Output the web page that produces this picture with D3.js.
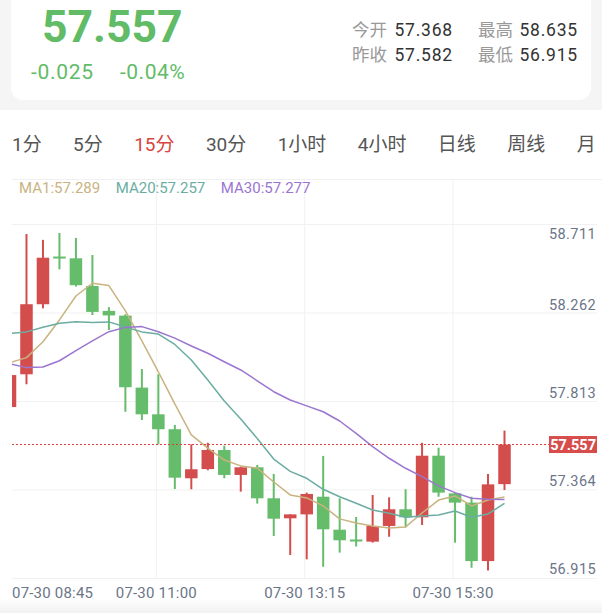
<!DOCTYPE html>
<html><head><meta charset="utf-8">
<script src="https://cdn.jsdelivr.net/npm/d3@7/dist/d3.min.js"></script>
<style>
html,body{margin:0;padding:0;background:#fff;}
svg{display:block;font-family:Roboto,"Noto Sans CJK SC",sans-serif;}
</style></head><body>
<svg id="c" width="602" height="613"></svg>
<script>
// ---------- data ----------
const opens  = [57.748,57.915,58.272,58.515,58.506,58.365,58.238,58.214,57.847,57.711,57.635,57.385,57.432,57.529,57.402,57.441,57.283,57.181,57.201,57.291,57.123,57.073,57.062,57.142,57.227,57.186,57.500,57.308,57.261,56.963,57.355];
const closes = [57.911,58.272,58.509,58.508,58.369,58.233,58.215,57.849,57.711,57.635,57.388,57.431,57.529,57.402,57.441,57.283,57.179,57.201,57.305,57.125,57.069,57.065,57.142,57.227,57.186,57.500,57.312,57.261,56.963,57.354,57.557];
const highs  = [57.937,58.630,58.600,58.635,58.610,58.523,58.257,58.221,57.942,57.915,57.657,57.558,57.566,57.551,57.444,57.453,57.407,57.201,57.312,57.499,57.283,57.188,57.300,57.288,57.329,57.566,57.541,57.312,57.291,57.407,57.628];
const lows   = [57.733,57.864,58.251,58.450,58.362,58.217,58.141,57.724,57.682,57.558,57.330,57.329,57.426,57.385,57.317,57.256,57.091,56.994,56.972,56.934,57.006,57.037,57.057,57.087,57.135,57.147,57.291,57.057,56.929,56.915,57.325];
const ma1  = [57.975,58.000,58.081,58.192,58.314,58.379,58.367,58.238,58.085,57.927,57.764,57.606,57.539,57.478,57.448,57.437,57.366,57.300,57.285,57.244,57.178,57.157,57.142,57.132,57.137,57.208,57.274,57.295,57.244,57.274,57.289];
const ma20 = [58.123,58.131,58.155,58.175,58.183,58.179,58.182,58.156,58.131,58.120,58.067,57.988,57.886,57.779,57.687,57.588,57.483,57.420,57.385,57.329,57.291,57.258,57.223,57.207,57.186,57.193,57.198,57.218,57.186,57.203,57.257];
const ma30 = [57.968,57.949,57.952,57.984,58.035,58.085,58.132,58.154,58.158,58.132,58.099,58.059,58.022,57.979,57.937,57.882,57.826,57.784,57.754,57.724,57.677,57.614,57.546,57.487,57.436,57.393,57.346,57.312,57.283,57.278,57.277];
const yTickValues = ["58.711","58.262","57.813","57.364","56.915"];
const xTickIndex  = [0, 9, 18, 27];
const xTickLabels = ["07-30 08:45","07-30 11:00","07-30 13:15","07-30 15:30"];
const tabs = ["1分","5分","15分","30分","1小时","4小时","日线","周线","月"];
const activeTab = "15分";
const legendNames  = ["MA1","MA20","MA30"];
const legendValues = ["57.289","57.257","57.277"];
const lastPrice = "57.557";
const change = "-0.025";
const changePct = "-0.04%";
const statLabels = ["今开","最高","昨收","最低"];
const statValues = ["57.368","58.635","57.582","56.915"];

// ---------- style ----------
const GREEN = "#65bc6b", RED = "#d44d4d";
const maColors = ["#c9b37f","#6bada3","#9b76d1"];
const AXIS = "#6b7588";
const GRID = "#f1f1f1";

const svg = d3.select("#c");
const defs = svg.append("defs");

// backgrounds
svg.append("rect").attr("x",0).attr("y",0).attr("width",602).attr("height",110).attr("fill","#f5f5f5");
svg.append("rect").attr("x",11).attr("y",-20).attr("width",580).attr("height",120).attr("rx",12).attr("fill","#fff");
const bg = defs.append("linearGradient").attr("id","bg").attr("x1",0).attr("y1",0).attr("x2",0).attr("y2",1);
bg.append("stop").attr("offset","0").attr("stop-color","#ffffff");
bg.append("stop").attr("offset","1").attr("stop-color","#f2f2f2");
svg.append("rect").attr("x",0).attr("y",598).attr("width",602).attr("height",15).attr("fill","url(#bg)");

// ---------- header ----------
svg.append("text").attr("x",42).attr("y",41.7).attr("font-size",44.5).attr("font-weight",700)
  .attr("fill","#62bb67").text(lastPrice);
svg.append("text").attr("x",31).attr("y",79).attr("font-size",21).attr("letter-spacing",0.7).attr("fill","#62bb67").text(change);
svg.append("text").attr("x",120).attr("y",79).attr("font-size",21).attr("letter-spacing",0.5).attr("fill","#62bb67").text(changePct);
const statLX = [352, 478], statVX = [453, 578], statY = [35.5, 60.5];
statLabels.forEach((l,i)=>{
  const col = i%2, row = Math.floor(i/2);
  svg.append("text").attr("x",statLX[col]).attr("y",statY[row]).attr("font-size",17.5).attr("fill","#999").text(l);
  svg.append("text").attr("x",statVX[col]).attr("y",statY[row]).attr("font-size",17.5).attr("letter-spacing",0.8)
    .attr("text-anchor","end").attr("fill","#333").text(statValues[i]);
});

// ---------- tabs ----------
let tx = 12;
tabs.forEach(t=>{
  const el = svg.append("text").attr("x",tx).attr("y",150.5).attr("font-size",19)
    .attr("fill", t===activeTab ? "#d6453f" : "#555").text(t);
  tx += el.node().getComputedTextLength() + 31.4;
});
svg.append("line").attr("x1",12).attr("x2",602).attr("y1",179.5).attr("y2",179.5).attr("stroke","#f0f0f0");

// ---------- scales ----------
const n = closes.length;
const x = d3.scaleLinear().domain([0, n-1]).range([10, 504.5]);
const step = x(1) - x(0);
const y = d3.scaleLinear().domain([d3.min(lows), d3.max(highs)]).range([570.5, 233]);
const gridY = d3.scaleLinear().domain([0, 4]).range([578.5, 224.5]);

// grid
svg.append("g").selectAll("line").data(d3.range(5)).join("line")
  .attr("x1",12).attr("x2",597).attr("y1",d=>gridY(d)).attr("y2",d=>gridY(d)).attr("stroke",GRID);
svg.append("g").selectAll("line").data(xTickIndex.slice(1)).join("line")
  .attr("x1",d=>x(d)-2).attr("x2",d=>x(d)-2).attr("y1",180).attr("y2",578.5).attr("stroke",GRID);

// ---------- legend ----------
let lx = 19;
legendNames.forEach((nm,i)=>{
  const el = svg.append("text").attr("x",lx).attr("y",192.5).attr("font-size",15).attr("fill",maColors[i])
    .text(nm + ":" + legendValues[i]);
  lx += el.node().getComputedTextLength() + 15.5;
});

// ---------- candles ----------
defs.append("clipPath").attr("id","clip").append("rect").attr("x",12).attr("y",180).attr("width",536).attr("height",400);
const plot = svg.append("g").attr("clip-path","url(#clip)");
const idx = d3.range(n);
const col = i => closes[i] >= opens[i] ? RED : GREEN;
const bw = step*0.76;
plot.append("g").selectAll("line").data(idx).join("line")
  .attr("x1",i=>x(i)).attr("x2",i=>x(i)).attr("y1",i=>y(highs[i])).attr("y2",i=>y(lows[i]))
  .attr("stroke",col).attr("stroke-width",2);
plot.append("g").selectAll("rect").data(idx).join("rect")
  .attr("x",i=>x(i)-bw/2).attr("width",bw)
  .attr("y",i=>y(Math.max(opens[i],closes[i])))
  .attr("height",i=>Math.max(2, Math.abs(y(opens[i])-y(closes[i]))))
  .attr("fill",col);

// MA lines
[ma1, ma20, ma30].forEach((arr,k)=>{
  plot.append("path").datum(arr)
    .attr("d", d3.line().x((d,i)=>x(i)).y(d=>y(d)))
    .attr("fill","none").attr("stroke",maColors[k]).attr("stroke-width",1.5).attr("stroke-linejoin","round");
});

// ---------- y axis labels ----------
svg.append("g").selectAll("text").data(yTickValues).join("text")
  .attr("x",596).attr("text-anchor","end").attr("font-size",14.5).attr("letter-spacing",0.4).attr("fill",AXIS)
  .attr("y",d=>Math.max(y(+d)+3.8, 238.5)).text(d=>d);

// ---------- last price line ----------
const py = y(+lastPrice);
svg.append("line").attr("x1",12).attr("x2",549).attr("y1",py).attr("y2",py)
  .attr("stroke","#e23b3b").attr("stroke-width",1).attr("stroke-dasharray","2,2");
svg.append("rect").attr("x",549).attr("y",py-8.5).attr("width",48).attr("height",17).attr("fill","#d64d4c");
svg.append("text").attr("x",596).attr("y",py+5.2).attr("text-anchor","end").attr("font-size",14.5)
  .attr("font-weight",700).attr("fill","#fff").text(lastPrice);

// ---------- x axis labels ----------
xTickIndex.forEach((ti,i)=>{
  const el = svg.append("text").attr("y",598).attr("font-size",15).attr("letter-spacing",0.2).attr("fill",AXIS).text(xTickLabels[i]);
  const w = el.node().getComputedTextLength();
  el.attr("x", Math.max(12, x(ti)-2 - w/2));
});
</script>
</body></html>
